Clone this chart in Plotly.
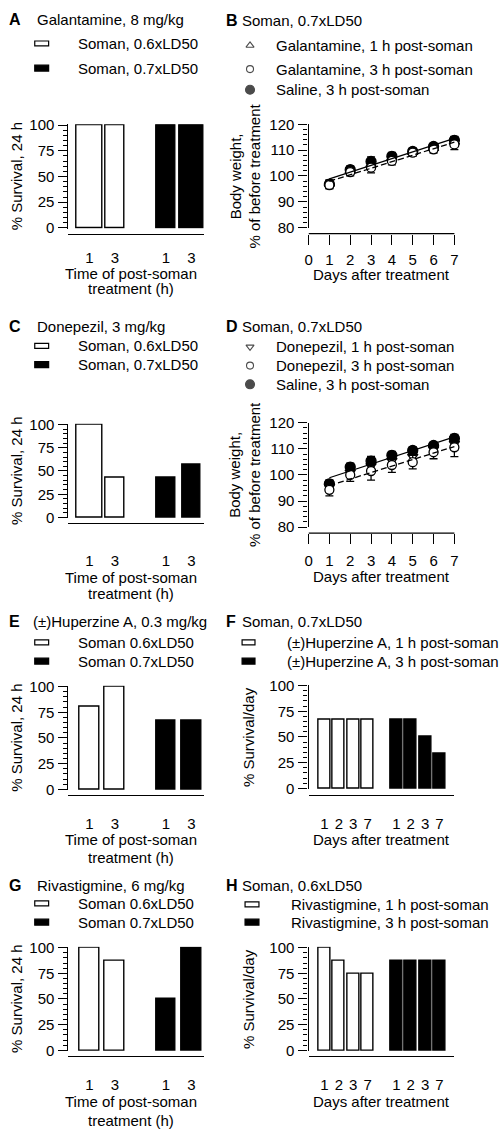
import numpy as np
import plotly.graph_objects as go

# ---------------- data ----------------
bar_positions = [1, 2, 4, 5]
bar_tick_labels = ["1", "3", "1", "3"]
galantamine_24h = [100, 100, 100, 100]
donepezil_24h = [100, 42.9, 42.9, 57.1]
huperzine_24h = [80, 100, 66.7, 66.7]
rivastigmine_24h = [100, 87.5, 50, 100]

day_positions = [1, 2, 3, 4, 6, 7, 8, 9]
day_tick_labels = ["1", "2", "3", "7", "1", "2", "3", "7"]
huperzine_daily = [66.7, 66.7, 66.7, 66.7, 66.7, 66.7, 50, 33.3]
rivastigmine_daily = [100, 87.5, 75, 75, 87.5, 87.5, 87.5, 87.5]

days = [1, 2, 3, 4, 5, 6, 7]
day_ticks = [0, 1, 2, 3, 4, 5, 6, 7]
gal_1h = [97.0, 102.0, 104.5, 107.0, 109.2, 110.8, 113.2]
gal_1h_sem = [1.5, 1.5, 2.0, 1.5, 1.3, 1.5, 1.8]
gal_3h = [96.5, 101.5, 103.2, 105.8, 109.0, 110.3, 112.2]
gal_3h_sem = [1.5, 1.5, 2.0, 1.5, 1.3, 1.5, 2.0]
gal_saline = [96.8, 102.4, 105.6, 107.6, 109.5, 111.4, 113.8]
gal_saline_sem = [1.5, 1.5, 1.8, 1.5, 1.3, 1.2, 1.5]

don_1h = [95.5, 101.0, 103.5, 105.5, 107.0, 110.0, 112.0]
don_1h_sem = [2.0, 2.0, 2.5, 2.0, 2.0, 2.0, 2.5]
don_3h = [94.3, 100.0, 101.5, 103.8, 104.9, 108.7, 110.6]
don_3h_sem = [2.3, 2.5, 3.5, 2.8, 2.6, 2.5, 3.6]
don_saline = [96.6, 103.0, 105.3, 107.5, 109.4, 111.3, 114.0]
don_saline_sem = [1.5, 1.5, 1.8, 1.5, 1.3, 1.2, 1.5]

# ---------------- styling / geometry ----------------
W, H = 502, 1138
FONT = "Liberation Sans, Arial, Helvetica, sans-serif"
FS = 15
fills_24h = ["white", "white", "black", "black"]
fills_daily = ["white"] * 4 + ["black"] * 4

fig = go.Figure()
axes = {}
annotations = []
shapes = []


def ax_names(i):
    s = "" if i == 1 else str(i)
    return "x" + s, "y" + s, "xaxis" + s, "yaxis" + s


def xd(a, b):
    return [a / W, b / W]


def yd(top, bot):
    return [1 - bot / H, 1 - top / H]


def text(x, y, t, anchor="left", size=FS, angle=0):
    annotations.append(dict(x=x, y=y, xref="x9", yref="y9", text=t, showarrow=False,
                            xanchor=anchor, yanchor="middle", textangle=angle,
                            font=dict(size=size, color="black", family=FONT)))


def box(x0, x1, yc, h, fill):
    shapes.append(dict(type="rect", xref="x9", yref="y9", x0=x0, x1=x1, y0=yc - h / 2, y1=yc + h / 2,
                       fillcolor=fill, line=dict(color="black", width=1.2)))


def yaxis_common(dom, rng, xa, tickvals, minor_dt):
    return dict(domain=dom, range=rng, anchor=xa, showline=True, linecolor="black", linewidth=1.3,
                ticks="outside", ticklen=9, tickwidth=1.3, tickcolor="black", tickvals=tickvals,
                minor=dict(dtick=minor_dt, ticks="outside", ticklen=4, tickwidth=1, tickcolor="black"),
                showgrid=False, zeroline=False, ticklabelstandoff=1,
                tickfont=dict(size=FS, color="black", family=FONT), fixedrange=True)


def bar_panel(i, xs, ys, fills, width, x_dom, x_rng, y_top, y_bot, axis_y, ticktext, standoff):
    xa, ya, xk, yk = ax_names(i)
    fig.add_trace(go.Bar(x=xs, y=ys, width=width, xaxis=xa, yaxis=ya, hoverinfo="skip",
                         marker=dict(color=fills, line=dict(color="black", width=1.4))))
    axes[xk] = dict(domain=xd(*x_dom), range=x_rng, anchor="free", position=1 - axis_y / H,
                    showline=True, linecolor="black", linewidth=1.3, ticks="",
                    tickmode="array", tickvals=xs, ticktext=ticktext, ticklabelstandoff=standoff,
                    showgrid=False, zeroline=False, fixedrange=True,
                    tickfont=dict(size=FS, color="black", family=FONT))
    axes[yk] = yaxis_common(yd(y_top, y_bot), [-0.8, 100.8], xa, [0, 25, 50, 75, 100], 5)


def weight_panel(i, series, fits, y_top, y_bot, axis_y, standoff):
    xa, ya, xk, yk = ax_names(i)
    for vals, err, sym, fill, size in series:
        fig.add_trace(go.Scatter(x=days, y=vals, mode="markers", xaxis=xa, yaxis=ya, cliponaxis=False,
                                 hoverinfo="skip",
                                 marker=dict(symbol=sym, size=size, color=fill,
                                             line=dict(color="black", width=1.3)),
                                 error_y=dict(type="data", array=err, color="black", thickness=1.3, width=4)))
    for vals, dash in fits:
        coef = np.polyfit(days, vals, 1)
        ends = [days[0], days[-1]]
        fig.add_trace(go.Scatter(x=ends, y=np.polyval(coef, ends), mode="lines", xaxis=xa, yaxis=ya,
                                 hoverinfo="skip", line=dict(color="black", width=1.3, dash=dash)))
    axes[xk] = dict(domain=xd(307, 307 + 7.4 * 21), range=[0, 7.4], anchor="free", position=1 - axis_y / H,
                    showline=False, ticks="outside", ticklen=10, tickwidth=1.3, tickcolor="black",
                    tickvals=day_ticks, ticklabelstandoff=standoff, showgrid=False, zeroline=False,
                    fixedrange=True, tickfont=dict(size=FS, color="black", family=FONT))
    axes[yk] = yaxis_common(yd(y_top, y_bot), [80, 120], xa, [80, 90, 100, 110, 120], 2)
    shapes.append(dict(type="line", xref=xa, yref="paper", x0=0, x1=7, y0=1 - axis_y / H, y1=1 - axis_y / H,
                       line=dict(color="black", width=1.3)))


BAR_X_RANGE = [(65 - 86) / 25.75 + 1, (202 - 86) / 25.75 + 1]
DAY_X_RANGE = [(307 - 323) / 14.5 + 1, (454 - 323) / 14.5 + 1]

# A
bar_panel(1, bar_positions, galantamine_24h, fills_24h, [1.04, 0.74, 0.77, 0.96], (65, 202), BAR_X_RANGE,
          117, 223, 228, bar_tick_labels, 10)
# C
bar_panel(3, bar_positions, donepezil_24h, fills_24h, [1.04, 0.72, 0.74, 0.74], (65, 202), BAR_X_RANGE,
          421, 517, 522, bar_tick_labels, 24)
# E
bar_panel(5, bar_positions, huperzine_24h, fills_24h, 0.78, (65, 202), BAR_X_RANGE,
          687, 793, 798, bar_tick_labels, 15)
# G
bar_panel(7, bar_positions, rivastigmine_24h, fills_24h, 0.78, (65, 202), BAR_X_RANGE,
          952, 1058, 1063, bar_tick_labels, 15)
# F
bar_panel(6, day_positions, huperzine_daily, fills_daily, 0.83, (307, 454), DAY_X_RANGE,
          686, 792, 798, day_tick_labels, 15)
# H
bar_panel(8, day_positions, rivastigmine_daily, fills_daily, 0.83, (307, 454), DAY_X_RANGE,
          952, 1058, 1063, day_tick_labels, 15)
# B
weight_panel(2, [(gal_1h, gal_1h_sem, "triangle-up", "white", 9),
                 (gal_saline, gal_saline_sem, "circle", "black", 10),
                 (gal_3h, gal_3h_sem, "circle", "white", 9)],
             [(gal_saline, "solid"), (gal_3h, "6px,3px")], 117, 222, 228, 2)
# D
weight_panel(4, [(don_1h, don_1h_sem, "triangle-down", "white", 9),
                 (don_saline, don_saline_sem, "circle", "black", 10),
                 (don_3h, don_3h_sem, "circle", "white", 9)],
             [(don_saline, "solid"), (don_3h, "6px,3px")], 420, 526, 532, 4)

# pixel overlay axes for legends/labels
axes["xaxis9"] = dict(domain=[0, 1], range=[0, W], visible=False, fixedrange=True, anchor="y9")
axes["yaxis9"] = dict(domain=[0, 1], range=[H, 0], visible=False, fixedrange=True, anchor="x9")

# legend markers for B and D
fig.add_trace(go.Scatter(x=[248, 248, 248, 248, 248, 248], y=[37, 61, 82, 343, 362, 381], mode="markers",
                         xaxis="x9", yaxis="y9", hoverinfo="skip", cliponaxis=False,
                         marker=dict(symbol=["triangle-up", "circle", "circle",
                                             "triangle-down", "circle", "circle"],
                                     size=[7, 7, 9, 7, 7, 9],
                                     color=["white", "white", "black", "white", "white", "black"],
                                     line=dict(color="black", width=1.1))))

# ---------------- texts ----------------
B = lambda s: "<b>" + s + "</b>"
for (lx, tx, y, letter, title) in [
    (3, 31, 11, "A", "Galantamine, 8 mg/kg"),
    (222, 238, 12, "B", "Soman, 0.7xLD50"),
    (3, 31, 322, "C", "Donepezil, 3 mg/kg"),
    (222, 238, 322, "D", "Soman, 0.7xLD50"),
    (3, 27, 622, "E", "(±)Huperzine A, 0.3 mg/kg"),
    (222, 238, 622, "F", "Soman, 0.7xLD50"),
    (3, 31, 890, "G", "Rivastigmine, 6 mg/kg"),
    (222, 238, 890, "H", "Soman, 0.6xLD50"),
]:
    text(lx, y, B(letter), size=16)
    text(tx, y, title)

for (y1, y2, l1, l2) in [
    (35, 60, "Soman, 0.6xLD50", "Soman, 0.7xLD50"),
    (342, 361, "Soman, 0.6xLD50", "Soman, 0.7xLD50"),
    (643, 662, "Soman 0.6xLD50", "Soman 0.7xLD50"),
    (908, 927, "Soman 0.6xLD50", "Soman 0.7xLD50"),
]:
    box(31, 45, y1, 5, "white")
    box(31, 45, y2, 6, "black")
    text(73, y1, l1)
    text(73, y2, l2)

box(240, 253, 643, 5, "white")
box(240, 253, 662, 6, "black")
text(283, 643, "(±)Huperzine A, 1 h post-soman")
text(283, 662, "(±)Huperzine A, 3 h post-soman")
box(243, 257, 909, 5, "white")
box(243, 257, 927, 6, "black")
text(287, 909, "Rivastigmine, 1 h post-soman")
text(287, 927, "Rivastigmine, 3 h post-soman")

for (ys, names) in [
    ((37, 61, 82), ("Galantamine, 1 h post-soman", "Galantamine, 3 h post-soman", "Saline, 3 h post-soman")),
    ((343, 362, 381), ("Donepezil, 1 h post-soman", "Donepezil, 3 h post-soman", "Saline, 3 h post-soman")),
]:
    for y, n in zip(ys, names):
        text(272, y, n)

for yc in (170, 469, 740, 1005):
    text(13, yc, "% Survival, 24 h", anchor="center", angle=-90)
for yc in (170, 473):
    text(243, yc, "Body weight,<br>% of before treatment", anchor="center", angle=-90)
for yc in (739, 1005):
    text(247, yc, "% Survival/day", anchor="center", angle=-90)

for (y1, y2) in [(268, 284), (577, 593), (843, 861), (1109, 1128)]:
    text(128, y1, "Time of post-soman", anchor="center")
    text(128, y2, "treatment (h)", anchor="center")
for y in (270, 576, 843, 1109):
    text(381, y, "Days after treatment", anchor="center")

fig.update_layout(width=W, height=H, margin=dict(l=0, r=0, t=0, b=0), showlegend=False,
                  paper_bgcolor="white", plot_bgcolor="rgba(0,0,0,0)",
                  font=dict(family=FONT, size=FS, color="black"),
                  annotations=annotations, shapes=shapes, bargap=0, **axes)

fig.write_html("out.html", config={"displayModeBar": False},
               post_script="document.documentElement.style.margin='0';document.body.style.margin='0';"
                           "document.body.style.padding='0';document.body.style.overflow='hidden';")
